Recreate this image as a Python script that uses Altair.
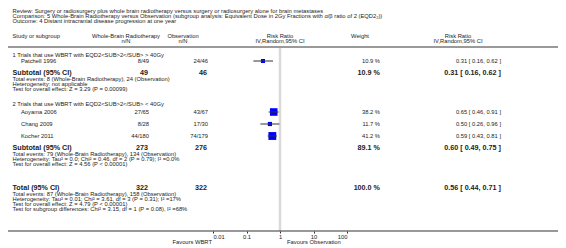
import altair as alt
import pandas as pd

FONT = "Liberation Sans"

# ---------------- data ----------------
title_lines = [
    "Review:  Surgery or radiosurgery plus whole brain radiotherapy versus surgery or radiosurgery alone for brain metastases",
    "Comparison:  5 Whole-Brain Radiotherapy versus Observation (subgroup analysis: Equivalent Dose in 2Gy Fractions with \u03b1/\u03b2 ratio of 2 (EQD2\u2082))",
    "Outcome:  4 Distant intracranial disease progression at one year",
]
group_labels = [
    "1 Trials that use WBRT with EQD2<SUB>2</SUB> > 40Gy",
    "2 Trials that use WBRT with EQD2<SUB>2</SUB> < 40Gy",
]
study = ["Patchell 1996", "Aoyama 2006", "Chang 2009", "Kocher 2011"]
wbrt_events = [8, 27, 8, 44]
wbrt_total = [49, 65, 28, 180]
obs_events = [24, 43, 17, 74]
obs_total = [46, 67, 30, 179]
weight = [10.9, 38.2, 11.7, 41.2]
rr = [0.31, 0.65, 0.50, 0.59]
rr_lo = [0.16, 0.46, 0.26, 0.43]
rr_hi = [0.62, 0.91, 0.96, 0.81]

pooled_label = ["Subtotal (95% CI)", "Subtotal (95% CI)", "Total (95% CI)"]
pooled_wbrt_total = [49, 273, 322]
pooled_obs_total = [46, 276, 322]
pooled_weight = [10.9, 89.1, 100.0]
pooled_rr = [0.31, 0.60, 0.56]
pooled_lo = [0.16, 0.49, 0.44]
pooled_hi = [0.62, 0.75, 0.71]

notes = [
    "Total events: 8 (Whole-Brain Radiotherapy), 24 (Observation)",
    "Heterogeneity: not applicable",
    "Test for overall effect: Z = 3.29 (P = 0.00099)",
    "Total events: 79 (Whole-Brain Radiotherapy), 134 (Observation)",
    "Heterogeneity: Tau\u00b2 = 0.0; Chi\u00b2 = 0.46, df = 2 (P = 0.79); I\u00b2 =0.0%",
    "Test for overall effect: Z = 4.56 (P < 0.00001)",
    "Total events: 87 (Whole-Brain Radiotherapy), 158 (Observation)",
    "Heterogeneity: Tau\u00b2 = 0.01; Chi\u00b2 = 3.61, df = 3 (P = 0.31); I\u00b2 =17%",
    "Test for overall effect: Z = 4.79 (P < 0.00001)",
    "Test for subgroup differences: Chi\u00b2 = 3.15, df = 1 (P = 0.08), I\u00b2 =68%",
]
tick_values = [0.01, 0.1, 1, 10, 100]
favours_left = "Favours WBRT"
favours_right = "Favours Observation"

# ---------------- layout (page pixels) ----------------
title_y = [10.5, 15.5, 20.5]
head_y = [36, 41]
header_line_y = 47
group_y = [55, 104]
study_y = [61, 112, 124, 136]
pooled_y = [73, 147.5, 188]
notes_y = [79, 84, 89, 153.5, 158.5, 163.5, 194, 199, 204, 209]
axis_y = 231
favours_y = 242
M = 8  # page margin
W, H = 550, 232

xs = alt.Scale(type="log", domain=[0.01, 100], range=[213 - M, 347 - M], nice=False)
ys = alt.Scale(domain=[M, M + H], range=[0, H], nice=False, zero=False)
x_axis = alt.Axis(values=tick_values, format="~g", title=None, domain=False, grid=False,
                  orient="bottom", offset=-(M + H - axis_y), tickSize=2, tickColor="#333",
                  labelFontSize=5.8, labelFont=FONT, labelColor="#222", labelPadding=0.5)


def fmt_ci(e, lo, hi):
    return f"{e:.2f} [ {lo:.2f}, {hi:.2f} ]"


def texts(rows, x_page, align="left", size=5.8, bold=False, color="#222"):
    df = pd.DataFrame(rows, columns=["t", "y"])
    return alt.Chart(df).mark_text(
        align=align, baseline="middle", font=FONT, fontSize=size,
        fontWeight="bold" if bold else "normal", color=color,
    ).encode(x=alt.value(x_page - M), y=alt.Y("y:Q", scale=ys, axis=None), text="t:N")


left_rows = (list(zip(title_lines, title_y)) + [("Study or subgroup", head_y[0])]
             + list(zip(group_labels, group_y)) + list(zip(notes, notes_y)))
layers = []
layers.append(texts(left_rows, 12.5))
layers.append(texts(list(zip(study, study_y)), 21))
layers.append(texts(list(zip(pooled_label, pooled_y)), 12.5, size=7.2, bold=True))

# header
layers.append(texts([("Whole-Brain Radiotherapy", head_y[0]), ("n/N", head_y[1])], 126, "center"))
layers.append(texts([("Observation", head_y[0]), ("n/N", head_y[1])], 183, "center"))
layers.append(texts([("Risk Ratio", head_y[0]), ("IV,Random,95% CI", head_y[1])], 280, "center"))
layers.append(texts([("Weight", head_y[0])], 360, "center"))
layers.append(texts([("Risk Ratio", head_y[0]), ("IV,Random,95% CI", head_y[1])], 458, "center"))

# study values
layers.append(texts([(f"{a}/{b}", y) for a, b, y in zip(wbrt_events, wbrt_total, study_y)], 149, "right"))
layers.append(texts([(f"{a}/{b}", y) for a, b, y in zip(obs_events, obs_total, study_y)], 208, "right"))
layers.append(texts([(f"{w:.1f} %", y) for w, y in zip(weight, study_y)], 380, "right"))
layers.append(texts([(fmt_ci(e, l, h), y) for e, l, h, y in zip(rr, rr_lo, rr_hi, study_y)], 501, "right"))
# pooled values
layers.append(texts([(str(a), y) for a, y in zip(pooled_wbrt_total, pooled_y)], 148, "right", 7.2, True))
layers.append(texts([(str(a), y) for a, y in zip(pooled_obs_total, pooled_y)], 207, "right", 7.2, True))
layers.append(texts([(f"{w:.1f} %", y) for w, y in zip(pooled_weight, pooled_y)], 380, "right", 7.2, True))
layers.append(texts([(fmt_ci(e, l, h), y) for e, l, h, y in zip(pooled_rr, pooled_lo, pooled_hi, pooled_y)],
                    501, "right", 7.2, True))
layers.append(texts([(favours_left, favours_y)], 212, "right"))
layers.append(texts([(favours_right, favours_y)], 287, "left"))

# lines
null_line = alt.Chart(pd.DataFrame({"v": [1]})).mark_rule(color="#dadada", strokeWidth=2.5).encode(
    x=alt.X("v:Q", scale=xs, axis=x_axis), y=alt.value(header_line_y - M + 1), y2=alt.value(axis_y - M))
header_line = alt.Chart(pd.DataFrame({"v": [1]})).mark_rule(color="#9a9a9a", strokeWidth=2).encode(
    x=alt.value(0), x2=alt.value(W), y=alt.value(header_line_y - M))
axis_line = alt.Chart(pd.DataFrame({"v": [1]})).mark_rule(color="#333", strokeWidth=1).encode(
    x=alt.value(0), x2=alt.value(W), y=alt.value(axis_y - M))

# study markers
sdf = pd.DataFrame({"rr": rr, "lo": rr_lo, "hi": rr_hi, "w": weight, "y": study_y})
squares = alt.Chart(sdf).mark_square(color="#0000ff", filled=True, opacity=1).encode(
    x=alt.X("rr:Q", scale=xs, axis=x_axis),
    y=alt.Y("y:Q", scale=ys, axis=None),
    size=alt.Size("w:Q", scale=alt.Scale(domain=[0, 41.2], range=[0, 62]), legend=None),
)
ci = alt.Chart(sdf).mark_rule(color="#333", strokeWidth=1).encode(
    x=alt.X("lo:Q", scale=xs, axis=x_axis), x2="hi:Q", y=alt.Y("y:Q", scale=ys, axis=None))

# pooled diamonds
half_h = [3.2, 2.8, 2.8]
rows = []
for i, (e, l, h, y, hh) in enumerate(zip(pooled_rr, pooled_lo, pooled_hi, pooled_y, half_h)):
    rows += [dict(id=i, k=0, x=l, y=y, y2=y), dict(id=i, k=1, x=e, y=y - hh, y2=y + hh),
             dict(id=i, k=2, x=h, y=y, y2=y)]
ddf = pd.DataFrame(rows)
diamonds = alt.Chart(ddf).mark_area(color="#000", orient="vertical", opacity=1).encode(
    x=alt.X("x:Q", scale=xs, axis=x_axis),
    y=alt.Y("y:Q", scale=ys, axis=None), y2="y2:Q",
    detail="id:N", order="k:Q")

chart = alt.layer(null_line, header_line, axis_line, squares, ci, diamonds, *layers).properties(
    width=W, height=H, autosize=alt.AutoSizeParams(type="none"),
    padding={"left": 0, "top": 0, "right": 0, "bottom": 8}, background="white"
).configure_view(stroke=None)

chart.save("out.html", embed_options={"renderer": "svg", "actions": False})
